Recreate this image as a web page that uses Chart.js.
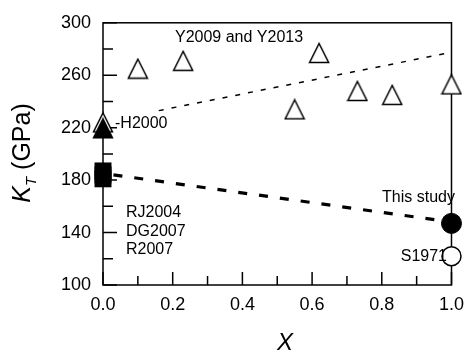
<!DOCTYPE html>
<html>
<head>
<meta charset="utf-8">
<script src="https://cdn.jsdelivr.net/npm/chart.js@4.4.0/dist/chart.umd.min.js"></script>
<style>
html, body { margin: 0; padding: 0; background: #fff; }
canvas { display: block; }
</style>
</head>
<body>
<canvas id="chart" width="473" height="351"></canvas>
<script>
// Y2009 and Y2013 (open triangles)
const yamadaX = [0.0, 0.10, 0.23, 0.55, 0.62, 0.73, 0.83, 1.0];
const yamadaK = [224, 265, 271, 234, 277, 248, 245, 253];
// H2000 (filled triangle)
const h2000X = [0.0];
const h2000K = [219.5];
// RJ2004, DG2007, R2007 (filled squares)
const squareX = [0.0, 0.0, 0.0];
const squareK = [187, 184, 181];
// this study
const studyX = [1.0];
const studyK = [147];
// S1971
const s1971X = [1.0];
const s1971K = [122];
// trend lines
const studyFitX = [0.03, 1.0];
const studyFitK = [184, 148];
const yamadaFitX = [0.16, 1.0];
const yamadaFitK = [233, 277.5];

const xTickLabels = ['0.0', '0.2', '0.4', '0.6', '0.8', '1.0'];
const yTickLabels = ['100', '140', '180', '220', '260', '300'];

const FONT = 'Liberation Sans, Arial, Helvetica, sans-serif';

function pts(xs, ys) {
    return xs.map((x, i) => ({ x: x, y: ys[i] }));
}

// triangle marker as a small canvas (same width and height like the original)
function triangle(fill) {
    const c = document.createElement('canvas');
    c.width = 22;
    c.height = 22;
    const g = c.getContext('2d');
    g.beginPath();
    g.moveTo(11, 1.5);
    g.lineTo(20.5, 20.5);
    g.lineTo(1.5, 20.5);
    g.closePath();
    g.fillStyle = fill;
    g.fill();
    g.lineWidth = 1.5;
    g.strokeStyle = '#000';
    g.stroke();
    return c;
}

const decor = {
    id: 'decor',
    beforeDatasetsDraw(chart) {
        const { ctx, chartArea: a, scales: { x, y } } = chart;
        ctx.save();
        ctx.strokeStyle = '#000';
        ctx.lineWidth = 1.5;
        ctx.strokeRect(a.left, a.top, a.right - a.left, a.bottom - a.top);
        ctx.beginPath();
        y.ticks.forEach(t => {
            const py = y.getPixelForValue(t.value);
            const len = t.label ? 14 : 10;
            ctx.moveTo(a.left, py);
            ctx.lineTo(a.left + len, py);
        });
        x.ticks.forEach(t => {
            const px = x.getPixelForValue(t.value);
            const len = t.label ? 13 : 9;
            ctx.moveTo(px, a.bottom);
            ctx.lineTo(px, a.bottom - len);
        });
        ctx.stroke();
        ctx.restore();
    },
    afterDatasetsDraw(chart) {
        const ctx = chart.ctx;
        ctx.save();
        ctx.fillStyle = '#000';
        ctx.textBaseline = 'alphabetic';
        ctx.font = '16px ' + FONT;
        ctx.textAlign = 'left';
        ctx.fillText('Y2009 and Y2013', 175, 42);
        ctx.fillText('-H2000', 115, 128);
        ctx.fillText('RJ2004', 126, 217);
        ctx.fillText('DG2007', 126, 236);
        ctx.fillText('R2007', 126, 254);
        ctx.textAlign = 'right';
        ctx.fillText('This study', 455, 202);
        ctx.fillText('S1971', 447, 261);

        // x axis title
        ctx.textAlign = 'center';
        ctx.font = 'italic 24px ' + FONT;
        ctx.fillText('X', 285, 350);

        // y axis title: K_T (GPa)
        const big = 'italic 25px ' + FONT;
        const sub = 'italic 15px ' + FONT;
        const rest = '25px ' + FONT;
        ctx.font = big; const wK = ctx.measureText('K').width;
        ctx.font = sub; const wT = ctx.measureText('T').width;
        ctx.font = rest; const wR = ctx.measureText(' (GPa)').width;
        const total = wK + wT + wR;
        ctx.translate(30, 153);
        ctx.rotate(-Math.PI / 2);
        ctx.textAlign = 'left';
        let u = -total / 2;
        ctx.font = big; ctx.fillText('K', u, 0); u += wK;
        ctx.font = sub; ctx.fillText('T', u, 6); u += wT;
        ctx.font = rest; ctx.fillText(' (GPa)', u, 0);
        ctx.restore();
    }
};

const openTri = triangle('#fff');
const fillTri = triangle('#000');

new Chart(document.getElementById('chart'), {
    type: 'scatter',
    data: {
        datasets: [
            {
                label: 'This study',
                data: pts(studyX, studyK),
                pointStyle: 'circle',
                pointRadius: 10,
                backgroundColor: '#000',
                borderColor: '#000',
                borderWidth: 1,
                clip: false
            },
            {
                label: 'S1971',
                data: pts(s1971X, s1971K),
                pointStyle: 'circle',
                pointRadius: 9.5,
                backgroundColor: '#fff',
                borderColor: '#000',
                borderWidth: 1.5,
                clip: false
            },
            {
                label: 'RJ2004 DG2007 R2007',
                data: pts(squareX, squareK),
                pointStyle: 'rect',
                pointRadius: 12,
                backgroundColor: '#000',
                borderColor: '#000',
                borderWidth: 0,
                clip: false
            },
            {
                label: 'H2000',
                data: pts(h2000X, h2000K),
                pointStyle: fillTri,
                pointRadius: 10,
                clip: false
            },
            {
                label: 'Y2009 and Y2013',
                data: pts(yamadaX, yamadaK),
                pointStyle: openTri,
                pointRadius: 10,
                clip: false
            },
            {
                label: 'fit this study',
                data: pts(studyFitX, studyFitK),
                showLine: true,
                pointRadius: 0,
                borderColor: '#000',
                borderWidth: 3.2,
                borderDash: [9, 12],
                clip: false
            },
            {
                label: 'fit Y2009',
                data: pts(yamadaFitX, yamadaFitK),
                showLine: true,
                pointRadius: 0,
                borderColor: '#000',
                borderWidth: 1.5,
                borderDash: [5, 8],
                clip: false
            }
        ]
    },
    options: {
        responsive: false,
        animation: false,
        devicePixelRatio: 1,
        layout: { padding: { top: 21, right: 11, left: 0, bottom: 0 } },
        plugins: {
            legend: { display: false },
            tooltip: { enabled: false }
        },
        scales: {
            x: {
                type: 'linear',
                min: 0,
                max: 1,
                afterFit: s => { s.height = 66; },
                grid: { display: false, drawTicks: false },
                border: { display: false },
                ticks: {
                    stepSize: 0.1,
                    autoSkip: false,
                    maxRotation: 0,
                    padding: 9,
                    color: '#000',
                    font: { family: FONT, size: 18 },
                    callback: v => {
                        const t = Number(v).toFixed(1);
                        return xTickLabels.includes(t) ? t : '';
                    }
                }
            },
            y: {
                type: 'linear',
                min: 100,
                max: 300,
                afterFit: s => { s.width = 103; },
                grid: { display: false, drawTicks: false },
                border: { display: false },
                ticks: {
                    stepSize: 20,
                    autoSkip: false,
                    padding: 12,
                    color: '#000',
                    font: { family: FONT, size: 18 },
                    callback: v => {
                        const t = String(Math.round(v));
                        return yTickLabels.includes(t) ? t : '';
                    }
                }
            }
        }
    },
    plugins: [decor]
});
</script>
</body>
</html>
